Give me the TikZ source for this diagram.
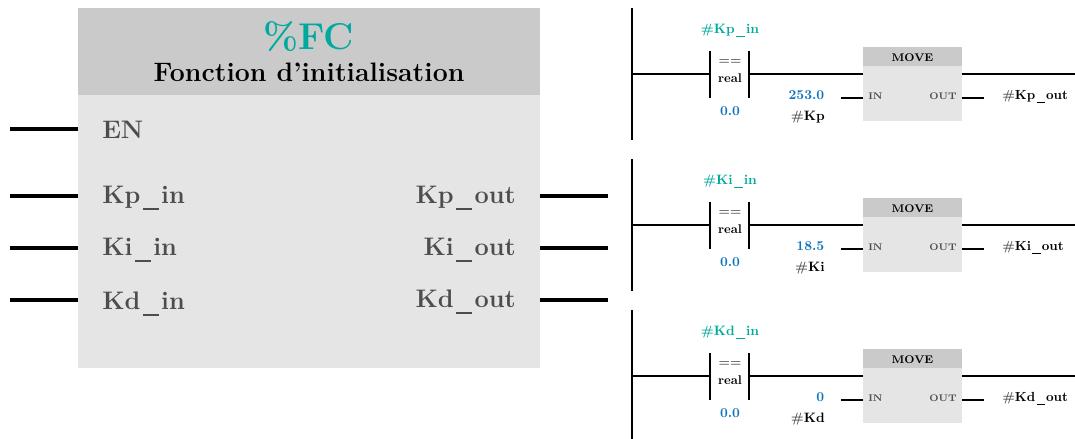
\documentclass[tikz,border=0pt]{standalone}
\usepackage{amsmath}
\usepackage{amssymb}
\usepackage{tikz}
\definecolor{fcteal}{HTML}{00A99D}
\definecolor{valblue}{HTML}{0F75BC}
\definecolor{headgray}{HTML}{CACACA}
\definecolor{bodygray}{HTML}{E5E5E5}
\definecolor{pingray}{HTML}{4D4D4D}
\newcommand{\usc}{\kern.1em\rule[-.29em]{.62em}{.08em}\kern.1em}
\tikzset{
	pinwire/.style={line width=2.6pt},
	rungwire/.style={line width=1.3pt},
	pinlabel/.style={font=\fontsize{19}{19}\selectfont\bfseries, text=pingray, inner sep=0pt},
	tag/.style={font=\fontsize{10.2}{11}\selectfont\bfseries, inner sep=0pt},
	movepin/.style={font=\fontsize{7.2}{8}\selectfont\bfseries, text=pingray, inner sep=0pt}
}

\begin{document}
\begin{tikzpicture}[x=0.75pt, y=-0.75pt]
	\useasboundingbox (0,0) rectangle (1075,439);

	% Function block
	\fill[bodygray] (78,95) rectangle (540,368);
	\fill[headgray] (78,8) rectangle (540,95);
	\node[text=fcteal, font=\fontsize{28}{28}\selectfont\bfseries, inner sep=0pt] (fctitle) at (309,37) {\%FC};
	\node[font=\fontsize{20}{20}\selectfont\bfseries, inner sep=0pt] (fcname) at (309,72.5) {Fonction d'initialisation};

	% Pins
	\node[pinlabel, anchor=base west] (en) at (102,138) {EN};
	\node[pinlabel, anchor=base west] (kpin) at (102,203) {Kp\usc in};
	\node[pinlabel, anchor=base west] (kiin) at (102,255) {Ki\usc in};
	\node[pinlabel, anchor=base west] (kdin) at (102,309) {Kd\usc in};
	\node[pinlabel, anchor=base east] (kpout) at (516,203) {Kp\usc out};
	\node[pinlabel, anchor=base east] (kiout) at (516,255) {Ki\usc out};
	\node[pinlabel, anchor=base east] (kdout) at (516,307) {Kd\usc out};

	% Wires
	\foreach \pname/\py in {en/129, kpin/196, kiin/248, kdin/300} {
		\coordinate (\pname-a) at (10,\py);
		\coordinate (\pname-b) at (78,\py);
		\draw[pinwire] (\pname-a) -- (\pname-b);
	}
	\foreach \pname/\py in {kpout/196, kiout/248, kdout/300} {
		\coordinate (\pname-a) at (540,\py);
		\coordinate (\pname-b) at (608,\py);
		\draw[pinwire] (\pname-a) -- (\pname-b);
	}

	% Rungs
	\foreach \rname/\shift/\railend/\val in {Kp/0/140/253.0, Ki/151/140/18.5, Kd/302/137/0} {
		\begin{scope}[yshift=\shift*-0.75pt]
			% Power rail
			\coordinate (\rname-railtop) at (632,8);
			\coordinate (\rname-railbot) at (632,\railend);
			\draw[rungwire] (\rname-railtop) -- (\rname-railbot);

			% Comparator
			\coordinate (\rname-cl) at (710,74);
			\coordinate (\rname-cr) at (749,74);
			\coordinate (\rname-rail) at (632,74);
			\draw[rungwire] (\rname-rail) -- (\rname-cl);
			\draw[rungwire] (710,51) -- (710,98);
			\draw[rungwire] (749,51) -- (749,98);
			\node[tag, text=fcteal] (\rname-var) at (730,30.5) {\#\rname\usc in};
			\node[font=\fontsize{9.5}{10}\selectfont\bfseries, text=pingray, inner sep=0pt] (\rname-eq) at (730,62) {==};
			\node[font=\fontsize{9.5}{10}\selectfont\bfseries, inner sep=0pt] (\rname-real) at (730,78) {real};
			\node[tag, text=valblue] (\rname-zero) at (730,111) {0.0};

			% MOVE box
			\fill[bodygray] (863,47) rectangle (962,121);
			\fill[headgray] (863,47) rectangle (962,66);
			\node[font=\fontsize{8.3}{9}\selectfont\bfseries, inner sep=0pt] (\rname-move) at (912.5,58) {MOVE};
			\node[movepin, anchor=west] (\rname-in) at (868,96) {IN};
			\node[movepin, anchor=east] (\rname-out) at (957,96) {OUT};
			\coordinate (\rname-ml) at (863,74);
			\coordinate (\rname-mr) at (962,74);
			\coordinate (\rname-end) at (1075,74);
			\draw[rungwire] (\rname-cr) -- (\rname-ml);
			\draw[rungwire] (\rname-mr) -- (\rname-end);

			% Operands
			\coordinate (\rname-ina) at (841,98);
			\coordinate (\rname-inb) at (863,98);
			\coordinate (\rname-outa) at (962,98);
			\coordinate (\rname-outb) at (984,98);
			\draw[rungwire] (\rname-ina) -- (\rname-inb);
			\draw[rungwire] (\rname-outa) -- (\rname-outb);
			\node[tag, text=valblue, anchor=base east] (\rname-val) at (824.5,99) {\val};
			\node[tag, anchor=base east] (\rname-gain) at (825,120) {\textcolor{pingray}{\#}\rname};
			\node[tag, font=\fontsize{9.9}{11}\selectfont\bfseries, anchor=base west] (\rname-dest) at (1002,99) {\textcolor{pingray}{\#}\rname\usc out};
		\end{scope}
	}
\end{tikzpicture}
\end{document}
